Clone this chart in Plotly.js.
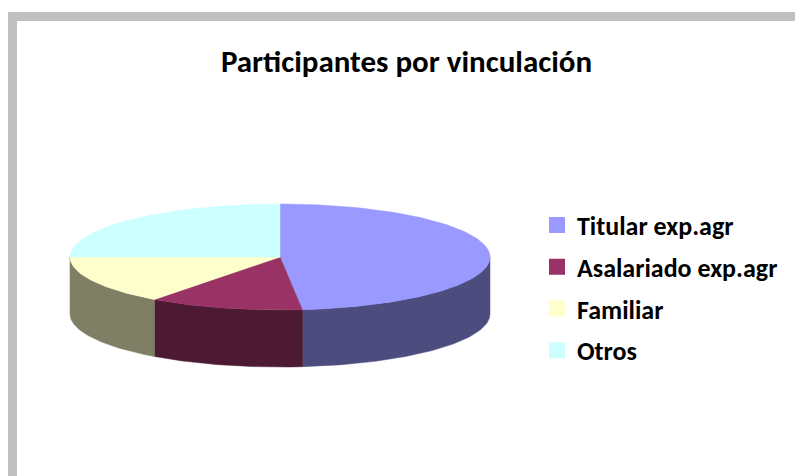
<!DOCTYPE html>
<html>
<head>
<meta charset="utf-8">
<script src="https://cdn.plot.ly/plotly-3.0.1.min.js"></script>
<style>html,body{margin:0;padding:0;background:#fff;}#chart{width:795px;height:476px;}</style>
</head>
<body>
<div id="chart"></div>
<script>
// ---- data ----
const categories = ['Titular exp.agr', 'Asalariado exp.agr', 'Familiar', 'Otros'];
const values = [48.3, 11.9, 14.8, 25.0];
const topColors = ['#9999FF', '#993366', '#FFFFCC', '#CCFFFF'];
const sideColors = ['#4C4C7F', '#4D1A33', '#7F7F66', '#667F7F'];

// ---- 3D pie geometry (pixel space axes) ----
const W = 795, H = 476;
const cx = 280, cy = 257, rx = 210, ry = 53, depth = 57;
const total = values.reduce((a, b) => a + b, 0);

function pt(tDeg, dy) {
  const t = tDeg * Math.PI / 180;
  return [cx + rx * Math.sin(t), cy - ry * Math.cos(t) + (dy || 0)];
}
function arc(a, b, dy) {
  const n = Math.max(2, Math.ceil(Math.abs(b - a) / 1));
  const xs = [], ys = [];
  for (let i = 0; i <= n; i++) {
    const p = pt(a + (b - a) * i / n, dy);
    xs.push(p[0]); ys.push(p[1]);
  }
  return [xs, ys];
}

const sideTraces = [], topTraces = [], legendTraces = [];
let start = 0;
values.forEach((v, i) => {
  const a = start, b = start + v / total * 360;
  start = b;
  // visible side wall (front half: 90..270 deg)
  const s = Math.max(a, 90), e = Math.min(b, 270);
  if (e > s) {
    const [tx, ty] = arc(s, e, 0);
    const [bx, by] = arc(e, s, depth);
    sideTraces.push({
      type: 'scatter', mode: 'lines', fill: 'toself',
      x: tx.concat(bx, [tx[0]]), y: ty.concat(by, [ty[0]]),
      fillcolor: sideColors[i], line: {color: sideColors[i], width: 0.5},
      hoverinfo: 'skip', showlegend: false
    });
  }
  const [ax, ay] = arc(a, b, 0);
  topTraces.push({
    type: 'scatter', mode: 'lines', fill: 'toself',
    x: [cx].concat(ax, [cx]), y: [cy].concat(ay, [cy]),
    fillcolor: topColors[i], line: {color: topColors[i], width: 0.5},
    name: categories[i], hoverinfo: 'name', showlegend: false
  });
  legendTraces.push({
    type: 'scatter', mode: 'markers', x: [null], y: [null],
    name: categories[i], legendgroup: 'g' + i,
    marker: {symbol: 'square', size: 16, color: topColors[i]},
    showlegend: true, hoverinfo: 'skip'
  });
});

const font = 'Carlito, Calibri, Lato, "Open Sans", sans-serif';
const layout = {
  width: W, height: H,
  margin: {l: 0, r: 0, t: 0, b: 0},
  paper_bgcolor: '#ffffff', plot_bgcolor: '#ffffff',
  xaxis: {range: [0, W], visible: false, fixedrange: true},
  yaxis: {range: [H, 0], visible: false, fixedrange: true},
  title: {
    text: 'Participantes por vinculación',
    font: {family: font, size: 31, color: '#000', weight: 'bold'},
    x: 406.5 / W, xanchor: 'center', y: 1 - 61 / H, yanchor: 'middle'
  },
  showlegend: true,
  legend: {
    x: 537 / W, xanchor: 'left', y: 1 - 288 / H, yanchor: 'middle',
    font: {family: font, size: 26, color: '#000', weight: 'bold'},
    bgcolor: 'rgba(0,0,0,0)', borderwidth: 0, tracegroupgap: 5,
    itemclick: false, itemdoubleclick: false
  },
  shapes: [
    {type: 'rect', xref: 'x', yref: 'y', x0: 8, x1: W, y0: 12, y1: 21, fillcolor: '#C0C0C0', line: {width: 0}, layer: 'above'},
    {type: 'rect', xref: 'x', yref: 'y', x0: 8, x1: 17, y0: 12, y1: H, fillcolor: '#C0C0C0', line: {width: 0}, layer: 'above'}
  ]
};

Plotly.newPlot('chart', sideTraces.concat(topTraces, legendTraces), layout, {displayModeBar: false});
</script>
</body>
</html>
